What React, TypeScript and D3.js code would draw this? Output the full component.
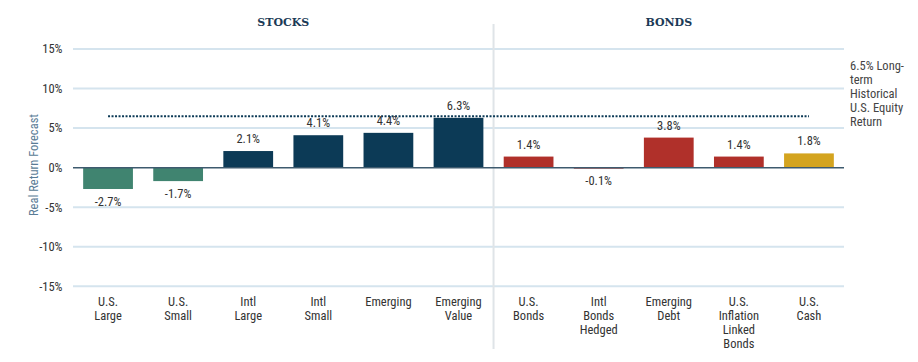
import React from "react";
import * as d3 from "d3";

const categories = [
  ["U.S.", "Large"],
  ["U.S.", "Small"],
  ["Intl", "Large"],
  ["Intl", "Small"],
  ["Emerging"],
  ["Emerging", "Value"],
  ["U.S.", "Bonds"],
  ["Intl", "Bonds", "Hedged"],
  ["Emerging", "Debt"],
  ["U.S.", "Inflation", "Linked", "Bonds"],
  ["U.S.", "Cash"],
];
const values = [-2.7, -1.7, 2.1, 4.1, 4.4, 6.3, 1.4, -0.1, 3.8, 1.4, 1.8];
const groups = ["stock", "stock", "stock", "stock", "stock", "stock", "bond", "bond", "bond", "bond", "cash"];
const yTicks = [15, 10, 5, 0, -5, -10, -15];
const benchmark = 6.5;
const benchmarkLabel = ["6.5% Long-", "term", "Historical", "U.S. Equity", "Return"];
const sections = [
  { label: "STOCKS", from: 0, to: 5 },
  { label: "BONDS", from: 6, to: 10 },
];

const W = 918;
const H = 362;
const left = 73;
const right = 844;
const font = "'Roboto Condensed', 'Liberation Sans Narrow', Roboto, sans-serif";

export default function App() {
  const x = d3.scaleBand<number>().domain(d3.range(values.length)).range([left, right]).paddingInner(0.29).paddingOuter(0.145);
  const y = d3.scaleLinear().domain([-15, 15]).range([286.3, 49]);
  const step = x.step();
  const center = (i: number) => (x(i) as number) + x.bandwidth() / 2;
  const colorFor = (i: number) => {
    if (groups[i] === "cash") return "#d4a41f";
    if (groups[i] === "bond") return "#b0302a";
    return values[i] < 0 ? "#408470" : "#0c3a56";
  };
  const dividerX = left + step * 6;
  const fs = 12.5;

  return (
    <svg width={W} height={H} style={{ display: "block", position: "absolute", left: 0, top: 0 }} fontFamily={font}>
      <rect width={W} height={H} fill="#fff" />
      {yTicks.map((t) => (
        <g key={t}>
          {t !== 0 && <line x1={left} x2={right} y1={y(t)} y2={y(t)} stroke="#d5e4ee" strokeWidth={2} />}
          <text x={62.5} y={y(t)} dy="0.35em" textAnchor="end" fontSize={fs} fill="#333">
            {t}%
          </text>
        </g>
      ))}
      <line x1={dividerX} x2={dividerX} y1={24} y2={349} stroke="#dfe4e8" strokeWidth={2} />
      {values.map((v, i) => (
        <rect
          key={i}
          x={x(i)}
          width={x.bandwidth()}
          y={Math.min(y(v), y(0))}
          height={Math.max(Math.abs(y(v) - y(0)), 1)}
          fill={colorFor(i)}
        />
      ))}
      <line x1={left} x2={right} y1={y(0)} y2={y(0)} stroke="#3e5a6e" strokeWidth={1.5} />
      <line
        x1={center(0)}
        x2={center(values.length - 1)}
        y1={y(benchmark)}
        y2={y(benchmark)}
        stroke="#0c3a56"
        strokeWidth={2}
        strokeDasharray="2,1.5"
      />
      {values.map((v, i) => (
        <text
          key={i}
          x={center(i)}
          y={v >= 0 ? y(v) - 8 : y(v) + 17}
          textAnchor="middle"
          fontSize={fs}
          fill="#333"
        >
          {v.toFixed(1)}%
        </text>
      ))}
      {categories.map((lines, i) => (
        <text key={i} x={center(i)} y={306} textAnchor="middle" fontSize={fs} fill="#333">
          {lines.map((l, j) => (
            <tspan key={j} x={center(i)} dy={j === 0 ? 0 : 14}>
              {l}
            </tspan>
          ))}
        </text>
      ))}
      {sections.map((s) => (
        <text
          key={s.label}
          x={(center(s.from) + center(s.to)) / 2}
          y={25.5}
          textAnchor="middle"
          fontSize={11}
          fontWeight="bold"
          fontFamily="'DejaVu Serif', 'Liberation Serif', serif"
          fill="#1b3a56"
        >
          {s.label}
        </text>
      ))}
      <text x={850} y={70} fontSize={fs} fill="#444">
        {benchmarkLabel.map((l, j) => (
          <tspan key={j} x={850} dy={j === 0 ? 0 : 14}>
            {l}
          </tspan>
        ))}
      </text>
      <text
        transform={`translate(38,165) rotate(-90)`}
        textAnchor="middle"
        fontSize={fs}
        fill="#5a7c96"
      >
        Real Return Forecast
      </text>
    </svg>
  );
}
